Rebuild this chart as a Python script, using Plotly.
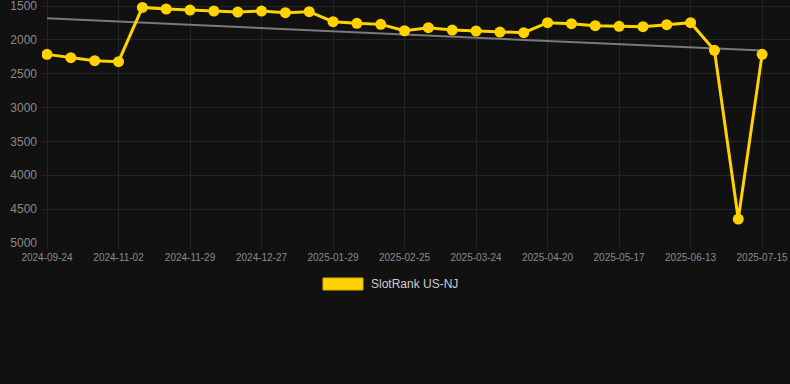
import numpy as np
import plotly.graph_objects as go

dates = ["2024-09-24", "2024-10-07", "2024-10-20", "2024-11-02", "2024-11-11", "2024-11-20",
         "2024-11-29", "2024-12-08", "2024-12-17", "2024-12-27", "2025-01-07", "2025-01-18",
         "2025-01-29", "2025-02-07", "2025-02-16", "2025-02-25", "2025-03-06", "2025-03-15",
         "2025-03-24", "2025-04-02", "2025-04-11", "2025-04-20", "2025-04-29", "2025-05-08",
         "2025-05-17", "2025-05-26", "2025-06-04", "2025-06-13", "2025-06-24", "2025-07-04",
         "2025-07-15"]
ranks = [2214, 2263, 2307, 2322, 1520, 1544, 1559, 1574, 1589, 1574, 1598, 1584,
         1732, 1756, 1771, 1865, 1820, 1855, 1869, 1884, 1894, 1746, 1761, 1791,
         1800, 1805, 1776, 1746, 2155, 4646, 2214]
tick_labels = dates[::3]
y_ticks = [1500, 2000, 2500, 3000, 3500, 4000, 4500, 5000]
series_name = "SlotRank US-NJ"

GOLD = "#FFD200"
BG = "#111111"
GRID = "#242424"

idx = np.arange(len(ranks))
slope, intercept = np.polyfit(idx, ranks, 1)
trend = slope * idx + intercept

fig = go.Figure()
fig.add_trace(go.Scatter(
    x=dates, y=trend, mode="lines",
    line=dict(color="#7a7a7a", width=2), hoverinfo="skip", showlegend=False))
fig.add_trace(go.Scatter(
    x=dates, y=ranks, mode="lines+markers", name=series_name,
    line=dict(color=GOLD, width=3),
    marker=dict(color=GOLD, size=11, line=dict(width=0)),
    showlegend=False))

# legend drawn manually (wide swatch)
fig.add_shape(type="rect", xref="paper", yref="paper",
              x0=(323 - 42) / 748, x1=(363 - 42) / 748,
              y0=(243 - 278) / 243, y1=(243 - 290) / 243,
              fillcolor=GOLD, line=dict(color="#d9b000", width=1))
fig.add_annotation(xref="paper", yref="paper", x=(369 - 42) / 748, y=(243 - 284) / 243,
                   text=series_name, showarrow=False, xanchor="left", yanchor="middle",
                   font=dict(size=12, color="#cccccc", family="Liberation Sans, Arial"))

fig.update_layout(
    width=790, height=384,
    margin=dict(l=42, r=0, t=0, b=141),
    paper_bgcolor=BG, plot_bgcolor=BG,
    font=dict(family="Liberation Sans, Arial, sans-serif", color="#8a8a8a"),
    showlegend=False,
)
fig.update_xaxes(
    type="category", categoryorder="array", categoryarray=dates,
    range=[-0.21, len(dates) - 1 + 1.17],
    tickmode="array", tickvals=tick_labels, ticktext=tick_labels,
    tickfont=dict(size=10, color="#8a8a8a"),
    showgrid=True, gridcolor=GRID, gridwidth=1,
    ticks="outside", ticklen=5, tickcolor=GRID,
    showline=False, zeroline=False, automargin=False,
    ticklabeloverflow="allow",
)
fig.update_yaxes(
    range=[5000, 1411],
    tickmode="array", tickvals=y_ticks, ticktext=[str(v) for v in y_ticks],
    tickfont=dict(size=12, color="#8a8a8a"),
    showgrid=True, gridcolor=GRID, gridwidth=1,
    ticks="", ticklabelstandoff=4,
    showline=False, zeroline=False, automargin=False,
    ticklabeloverflow="allow",
)

fig.write_html(
    "out.html",
    config={"displayModeBar": False},
    post_script="document.body.style.margin='0';document.body.style.background='#111111';",
)
